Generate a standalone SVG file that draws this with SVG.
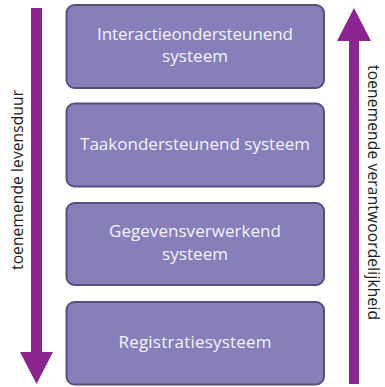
<svg xmlns="http://www.w3.org/2000/svg" width="385" height="387" viewBox="0 0 385 387">
  <style>
    .box { fill: #877fba; stroke: #55507e; stroke-width: 2; }
    .label { font-family: "Open Sans", "Noto Sans", sans-serif; font-size: 17px; fill: #f5f3fb; text-anchor: middle; }
    .side { font-family: "Open Sans", "Noto Sans", sans-serif; font-size: 15.5px; fill: #222222; text-anchor: middle; }
    .arrow { fill: #8d2590; }
  </style>
  <rect width="385" height="387" fill="#ffffff"/>

  <!-- system layers -->
  <g id="interactie">
    <rect class="box" x="66.5" y="5" width="257.5" height="83" rx="8"/>
    <text class="label" x="195" y="40" textLength="196">Interactieondersteunend</text>
    <text class="label" x="195" y="62" textLength="66">systeem</text>
  </g>
  <g id="taak">
    <rect class="box" x="66.5" y="103.5" width="257.5" height="83" rx="8"/>
    <text class="label" x="195" y="150" textLength="230">Taakondersteunend systeem</text>
  </g>
  <g id="gegevens">
    <rect class="box" x="66.5" y="203" width="257.5" height="82" rx="8"/>
    <text class="label" x="195" y="237" textLength="172">Gegevensverwerkend</text>
    <text class="label" x="195" y="260" textLength="66">systeem</text>
  </g>
  <g id="registratie">
    <rect class="box" x="66.5" y="302" width="257.5" height="82.5" rx="8"/>
    <text class="label" x="195" y="348" textLength="153">Registratiesysteem</text>
  </g>

  <!-- side arrows -->
  <g id="connectors">
    <path class="arrow" d="M31,8 H42 V352 H53 L36.5,384 L20,352 H31 Z"/>
    <path class="arrow" d="M349,384 V41 H337 L354,8 L371,41 H359 V384 Z"/>
  </g>

  <!-- side captions -->
  <text class="side" transform="translate(23,180) rotate(-90)" textLength="180">toenemende levensduur</text>
  <text class="side" transform="translate(368,192.5) rotate(90)" textLength="255">toenemende verantwoordelijkheid</text>
</svg>
